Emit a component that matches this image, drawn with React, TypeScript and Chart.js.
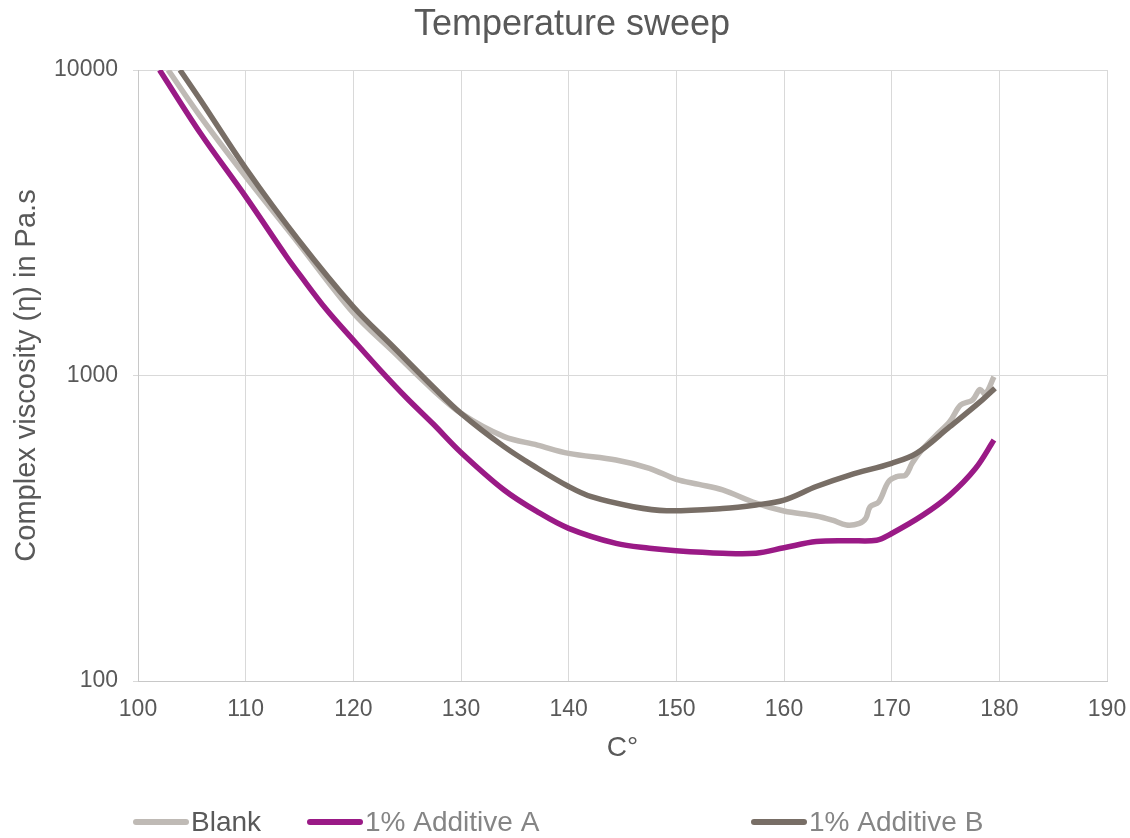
import React, { useEffect, useRef } from "react";
import { Chart, registerables } from "chart.js";

Chart.register(...registerables);

const chartTitle = "Temperature sweep";
const xTitle = "C°";
const yTitle = "Complex viscosity (η) in Pa.s";
const xTickValues = [100, 110, 120, 130, 140, 150, 160, 170, 180, 190];
const yTickValues = [100, 1000, 10000];

const seriesNames = ["Blank", "1% Additive A", "1% Additive B"];
const seriesColors = ["#bfbab5", "#9a1a86", "#786e66"];
const legendTextColors = ["#595959", "#858585", "#858585"];

const blankTemps = [102.8, 105.8, 110, 114.9, 120, 123.7, 127.4, 130, 134, 137.1, 140, 144.4, 147.5, 150, 152.1, 154.3, 157.4, 160, 163, 164.5, 165.8, 167.0, 167.6, 168.0, 168.8, 169.7, 170.5, 171.3, 171.9, 172.8, 174, 175.4, 176.4, 177.5, 178.2, 178.7, 179.5];
const blankValues = [10000, 7035, 4478, 2711, 1602, 1197, 897, 752, 631, 592, 556, 529, 497, 457, 440, 422, 382, 360, 347, 336, 324, 328, 341, 372, 386, 449, 467, 472, 516, 570, 631, 707, 800, 831, 900, 870, 990];

const addATemps = [102.0, 105.8, 110, 113.8, 115, 117.5, 120, 122.5, 125, 127.4, 130, 134, 137.1, 140, 144.4, 147.5, 150, 154.3, 157.4, 160, 163, 166, 168.6, 170, 172.9, 175.4, 177.8, 179.5];
const addAValues = [10000, 6206, 3849, 2448, 2143, 1644, 1306, 1042, 841, 695, 560, 422, 358, 316, 282, 272, 267, 262, 262, 273, 286, 288, 289, 304, 349, 406, 497, 615];

const addBTemps = [103.9, 105.8, 110, 114.9, 120, 123.7, 127.4, 130, 134, 137.1, 140, 142.1, 146, 149.1, 154.3, 157.4, 160, 163, 166.1, 170, 172.3, 175.4, 178.4, 179.6];
const addBValues = [10000, 7974, 4767, 2777, 1679, 1242, 919, 752, 585, 497, 433, 401, 372, 361, 367, 377, 391, 433, 472, 516, 556, 680, 831, 909];

const seriesTemps = [blankTemps, addATemps, addBTemps];
const seriesValues = [blankValues, addAValues, addBValues];

const FONT = "'Liberation Sans', Arial, sans-serif";

const overlayPlugin = {
  id: "overlay",
  afterDraw(chart: any) {
    const ctx = chart.ctx;
    ctx.save();
    // title
    ctx.font = `36px ${FONT}`;
    ctx.fillStyle = "#595959";
    ctx.textAlign = "center";
    ctx.textBaseline = "alphabetic";
    ctx.fillText(chartTitle, 572, 35);
    // legend
    const starts = [133, 307, 751];
    ctx.font = `28px ${FONT}`;
    ctx.textAlign = "left";
    chart.data.datasets.forEach((ds: any, i: number) => {
      const x0 = starts[i];
      ctx.strokeStyle = ds.borderColor;
      ctx.lineWidth = 6;
      ctx.lineCap = "round";
      ctx.beginPath();
      ctx.moveTo(x0 + 3, 822);
      ctx.lineTo(x0 + 53, 822);
      ctx.stroke();
      ctx.fillStyle = legendTextColors[i];
      ctx.fillText(ds.label, x0 + 58, 831);
    });
    ctx.restore();
  },
};

export default function App() {
  const ref = useRef<HTMLCanvasElement | null>(null);
  useEffect(() => {
    if (!ref.current) return;
    const datasets = seriesNames.map((name, i) => ({
      label: name,
      data: seriesTemps[i].map((t, j) => ({ x: t, y: seriesValues[i][j] })),
      borderColor: seriesColors[i],
      backgroundColor: seriesColors[i],
      borderWidth: 5.5,
      pointRadius: 0,
      tension: 0.35,
      fill: false,
      order: [2, 1, 0][i],
    }));
    const chart = new Chart(ref.current, {
      type: "line",
      data: { datasets },
      options: {
        animation: false,
        responsive: false,
        layout: { padding: { top: 70, right: 23, left: 0, bottom: 0 } },
        plugins: { legend: { display: false }, title: { display: false }, tooltip: { enabled: false } },
        scales: {
          x: {
            type: "linear",
            min: 100,
            max: 190,
            afterFit: (s: any) => { s.height = 157; s.paddingRight = 0; s.paddingLeft = 0; },
            afterBuildTicks: (s: any) => { s.ticks = xTickValues.map((v) => ({ value: v })); },
            grid: { color: "#d9d9d9", lineWidth: 1, drawTicks: false },
            border: { color: "#c8c8c8", width: 1 },
            ticks: { color: "#595959", font: { size: 23, family: FONT }, padding: 15, callback: (v: any) => String(v) },
            title: { display: true, text: xTitle, color: "#595959", font: { size: 28, family: FONT }, padding: { top: 0, bottom: 73 } },
          },
          y: {
            type: "logarithmic",
            min: 100,
            max: 10000,
            afterFit: (s: any) => { s.width = 138; s.paddingTop = 0; s.paddingBottom = 0; },
            afterBuildTicks: (s: any) => { s.ticks = yTickValues.map((v) => ({ value: v })); },
            grid: { color: "#d9d9d9", lineWidth: 1, drawTicks: true, tickLength: 5 },
            border: { color: "#c8c8c8", width: 1 },
            ticks: { color: "#595959", font: { size: 23, family: FONT }, padding: 15, callback: (v: any) => String(v) },
            title: { display: true, text: yTitle, color: "#595959", font: { size: 29, family: FONT }, padding: { top: 10, bottom: 0 } },
          },
        },
      },
      plugins: [overlayPlugin],
    } as any);
    return () => chart.destroy();
  }, []);
  return (
    <div style={{ position: "absolute", left: 0, top: 0, width: 1130, height: 838, background: "#fff" }}>
      <canvas ref={ref} width={1130} height={838} style={{ width: 1130, height: 838, display: "block" }} />
    </div>
  );
}
